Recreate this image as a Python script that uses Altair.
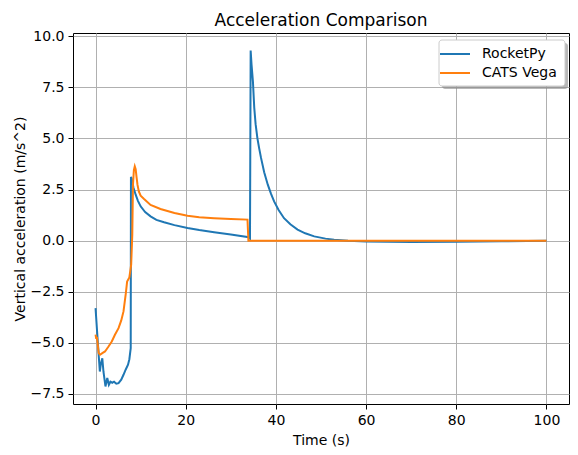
import altair as alt
import pandas as pd

# RocketPy series
rp_t = [0, 0.45, 0.95, 1.2, 1.5, 1.75, 2.2, 2.6, 2.95, 3.3, 3.7, 4.1, 4.6, 5.1, 5.7, 6.2, 6.7, 7.2, 7.5, 7.8, 7.85,
        8.0, 8.4, 8.9, 9.4, 10.0, 11.0, 12.2, 13.5, 15.2, 17.5, 20.4, 23.0, 26.3, 30.0, 34.0, 34.25, 34.4,
        34.6, 34.9, 35.2, 35.5, 35.9, 36.3, 36.7, 37.4, 38.2, 38.9, 39.6, 40.6, 41.8, 43.2, 44.8, 46.5, 48.5,
        51.0, 52.9, 56, 60, 70, 80, 90, 100]
rp_a = [-3.3, -4.8, -6.4, -6.0, -5.75, -6.4, -7.13, -6.72, -7.05, -6.9, -6.95, -6.9, -7.0, -6.97, -6.8, -6.56, -6.3,
        -6.07, -5.8, -5.26, 3.12,
        3.05, 2.6, 2.25, 1.95, 1.68, 1.4, 1.19, 1.02, 0.9, 0.76, 0.62, 0.52, 0.41, 0.3, 0.17, 0.1, 9.3,
        8.6, 7.8, 6.5, 5.7, 5.0, 4.5, 4.05, 3.35, 2.74, 2.3, 1.92, 1.5, 1.1, 0.8, 0.54, 0.36, 0.21,
        0.1, 0.05, 0.0, -0.04, -0.06, -0.05, -0.03, 0.0]

# CATS Vega series
cv_t = [0, 0.15, 0.3, 0.7, 1.0, 1.5, 2.1, 2.8, 3.6, 4.3, 5.1, 5.7, 6.2, 6.7, 7.0, 7.5, 7.9, 8.15, 8.3, 8.5, 8.7,
        8.9, 9.1, 9.3, 9.6, 10.0, 10.7, 12.2, 14.4, 17.5, 20.4, 23.0, 26.3, 30.0, 33.7, 33.9, 40, 60, 80, 100]
cv_a = [-4.6, -4.8, -4.7, -5.5, -5.58, -5.5, -5.42, -5.2, -4.93, -4.6, -4.28, -3.9, -3.46, -2.6, -2.0, -1.8, -1.17,
        0.3, 2.74, 3.45, 3.64, 3.5, 3.1, 2.74, 2.41, 2.2, 2.05, 1.75, 1.55, 1.35, 1.22, 1.15, 1.1, 1.06, 1.03,
        0.0, 0.0, 0.0, 0.0, 0.0]

series_names = ["RocketPy", "CATS Vega"]
series_colors = ["#1f77b4", "#ff7f0e"]
x_ticks = [0, 20, 40, 60, 80, 100]
y_ticks = [-7.5, -5.0, -2.5, 0.0, 2.5, 5.0, 7.5, 10.0]

rows = []
for i, (t, a) in enumerate(zip(rp_t, rp_a)):
    rows.append({"t": t, "a": a, "series": "RocketPy", "order": i})
for i, (t, a) in enumerate(zip(cv_t, cv_a)):
    rows.append({"t": t, "a": a, "series": "CATS Vega", "order": i})
df = pd.DataFrame(rows)

lines = alt.Chart(df).mark_line(strokeWidth=2, clip=True).encode(
    x=alt.X("t:Q", title="Time (s)",
            scale=alt.Scale(domain=[-5, 105], nice=False, zero=False),
            axis=alt.Axis(values=x_ticks, format="d")),
    y=alt.Y("a:Q", title="Vertical acceleration (m/s^2)",
            scale=alt.Scale(domain=[-7.99, 10.16], nice=False, zero=False),
            axis=alt.Axis(values=y_ticks, format=".1f")),
    color=alt.Color("series:N", sort=series_names,
                    scale=alt.Scale(domain=series_names, range=series_colors),
                    legend=alt.Legend(title=None, orient="none", legendX=375, legendY=14,
                                      symbolType="M-3,0H3", symbolSize=100, symbolStrokeWidth=2,
                                      labelFontSize=14, labelOffset=20, rowPadding=5,
                                      padding=0)),
    order="order:Q",
)

blank = pd.DataFrame({"k": [0]})
# legend drop shadow and frame
shadow = alt.Chart(blank).mark_rect(
    color="#888888", opacity=0.6, cornerRadius=3
).encode(
    x=alt.value(369), x2=alt.value(495), y=alt.value(10), y2=alt.value(56),
)
frame = alt.Chart(blank).mark_rect(
    fill="white", stroke="#cccccc", strokeWidth=1, cornerRadius=3
).encode(
    x=alt.value(366), x2=alt.value(492), y=alt.value(7), y2=alt.value(53),
)

chart = alt.layer(shadow, frame, lines).properties(
    width=496, height=371,
    title=alt.TitleParams("Acceleration Comparison", fontSize=17, fontWeight="normal",
                          offset=-1, color="black"),
    autosize=alt.AutoSizeParams(type="none"),
    padding={"left": 73, "top": 33, "right": 9, "bottom": 51},
).configure(
    font="DejaVu Sans",
).configure_view(
    stroke="black", strokeWidth=1,
).configure_axis(
    domain=False, grid=True, gridColor="#b0b0b0", gridWidth=1,
    tickColor="black", tickSize=5, tickWidth=1,
    labelFontSize=14, labelColor="black", labelPadding=4,
    titleFontSize=14, titleFontWeight="normal", titleColor="black",
).configure_axisX(
    titlePadding=6,
).configure_axisY(
    titlePadding=3,
).configure_legend(
    labelColor="black",
)

chart.save("out.html", embed_options={"renderer": "svg", "actions": False})
